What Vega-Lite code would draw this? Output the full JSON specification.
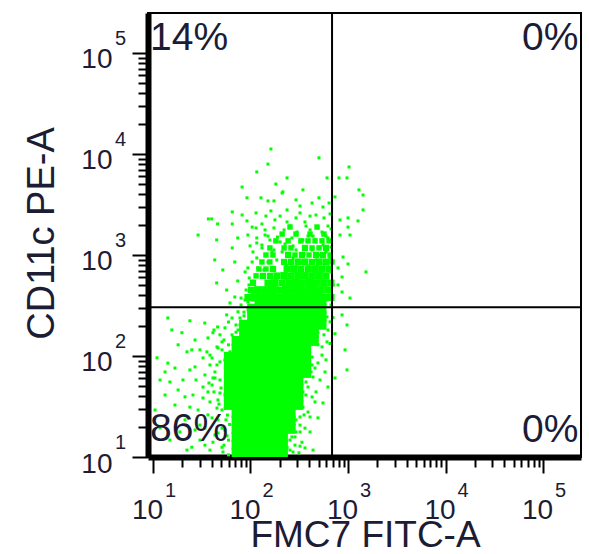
{
"$schema":"https://vega.github.io/schema/vega-lite/v6.json",
"autosize":{"type":"none"},
"padding":{"left":148,"top":13,"right":8,"bottom":97},
"width":433,"height":444,
"background":"white",
"config":{"view":{"stroke":"black","strokeWidth":2},"font":"Liberation Sans"},
"datasets":{
"cells":[
{"fitc":72,"pe":11,"n":10},{"fitc":86,"pe":11,"n":10},{"fitc":104,"pe":11,"n":10},{"fitc":124,"pe":11,"n":10},{"fitc":149,"pe":11,"n":10},{"fitc":179,"pe":11,"n":10},{"fitc":215,"pe":11,"n":10},
{"fitc":72,"pe":13.2,"n":10},{"fitc":86,"pe":13.2,"n":10},{"fitc":104,"pe":13.2,"n":10},{"fitc":124,"pe":13.2,"n":10},{"fitc":149,"pe":13.2,"n":10},{"fitc":179,"pe":13.2,"n":10},{"fitc":215,"pe":13.2,"n":10},
{"fitc":72,"pe":15.8,"n":10},{"fitc":86,"pe":15.8,"n":10},{"fitc":104,"pe":15.8,"n":10},{"fitc":124,"pe":15.8,"n":10},{"fitc":149,"pe":15.8,"n":10},{"fitc":179,"pe":15.8,"n":10},{"fitc":215,"pe":15.8,"n":10},
{"fitc":72,"pe":19,"n":10},{"fitc":86,"pe":19,"n":10},{"fitc":104,"pe":19,"n":10},{"fitc":124,"pe":19,"n":10},{"fitc":149,"pe":19,"n":10},{"fitc":179,"pe":19,"n":10},{"fitc":215,"pe":19,"n":10},{"fitc":258,"pe":19,"n":10},
{"fitc":72,"pe":22.8,"n":10},{"fitc":86,"pe":22.8,"n":10},{"fitc":104,"pe":22.8,"n":10},{"fitc":124,"pe":22.8,"n":10},{"fitc":149,"pe":22.8,"n":10},{"fitc":179,"pe":22.8,"n":10},{"fitc":215,"pe":22.8,"n":10},{"fitc":258,"pe":22.8,"n":10},
{"fitc":72,"pe":27.4,"n":10},{"fitc":86,"pe":27.4,"n":10},{"fitc":104,"pe":27.4,"n":10},{"fitc":124,"pe":27.4,"n":10},{"fitc":149,"pe":27.4,"n":10},{"fitc":179,"pe":27.4,"n":10},{"fitc":215,"pe":27.4,"n":10},{"fitc":258,"pe":27.4,"n":10},
{"fitc":60,"pe":32.8,"n":10},{"fitc":72,"pe":32.8,"n":10},{"fitc":86,"pe":32.8,"n":10},{"fitc":104,"pe":32.8,"n":10},{"fitc":124,"pe":32.8,"n":10},{"fitc":149,"pe":32.8,"n":10},{"fitc":179,"pe":32.8,"n":10},{"fitc":215,"pe":32.8,"n":10},{"fitc":258,"pe":32.8,"n":10},{"fitc":310,"pe":32.8,"n":10},
{"fitc":60,"pe":39.4,"n":10},{"fitc":72,"pe":39.4,"n":10},{"fitc":86,"pe":39.4,"n":10},{"fitc":104,"pe":39.4,"n":10},{"fitc":124,"pe":39.4,"n":10},{"fitc":149,"pe":39.4,"n":10},{"fitc":179,"pe":39.4,"n":10},{"fitc":215,"pe":39.4,"n":10},{"fitc":258,"pe":39.4,"n":10},{"fitc":310,"pe":39.4,"n":10},
{"fitc":60,"pe":47.3,"n":10},{"fitc":72,"pe":47.3,"n":10},{"fitc":86,"pe":47.3,"n":10},{"fitc":104,"pe":47.3,"n":10},{"fitc":124,"pe":47.3,"n":10},{"fitc":149,"pe":47.3,"n":10},{"fitc":179,"pe":47.3,"n":10},{"fitc":215,"pe":47.3,"n":10},{"fitc":258,"pe":47.3,"n":10},{"fitc":310,"pe":47.3,"n":10},
{"fitc":60,"pe":56.8,"n":10},{"fitc":72,"pe":56.8,"n":10},{"fitc":86,"pe":56.8,"n":10},{"fitc":104,"pe":56.8,"n":10},{"fitc":124,"pe":56.8,"n":10},{"fitc":149,"pe":56.8,"n":10},{"fitc":179,"pe":56.8,"n":10},{"fitc":215,"pe":56.8,"n":10},{"fitc":258,"pe":56.8,"n":10},{"fitc":310,"pe":56.8,"n":10},
{"fitc":60,"pe":68,"n":10},{"fitc":72,"pe":68,"n":10},{"fitc":86,"pe":68,"n":10},{"fitc":104,"pe":68,"n":10},{"fitc":124,"pe":68,"n":10},{"fitc":149,"pe":68,"n":10},{"fitc":179,"pe":68,"n":10},{"fitc":215,"pe":68,"n":10},{"fitc":258,"pe":68,"n":10},{"fitc":310,"pe":68,"n":10},{"fitc":372,"pe":68,"n":10},
{"fitc":60,"pe":82,"n":10},{"fitc":72,"pe":82,"n":10},{"fitc":86,"pe":82,"n":10},{"fitc":104,"pe":82,"n":10},{"fitc":124,"pe":82,"n":10},{"fitc":149,"pe":82,"n":10},{"fitc":179,"pe":82,"n":10},{"fitc":215,"pe":82,"n":10},{"fitc":258,"pe":82,"n":10},{"fitc":310,"pe":82,"n":10},{"fitc":372,"pe":82,"n":10},
{"fitc":60,"pe":98,"n":10},{"fitc":72,"pe":98,"n":10},{"fitc":86,"pe":98,"n":10},{"fitc":104,"pe":98,"n":10},{"fitc":124,"pe":98,"n":10},{"fitc":149,"pe":98,"n":10},{"fitc":179,"pe":98,"n":10},{"fitc":215,"pe":98,"n":10},{"fitc":258,"pe":98,"n":10},{"fitc":310,"pe":98,"n":10},{"fitc":372,"pe":98,"n":10},
{"fitc":72,"pe":118,"n":10},{"fitc":86,"pe":118,"n":10},{"fitc":104,"pe":118,"n":10},{"fitc":124,"pe":118,"n":10},{"fitc":149,"pe":118,"n":10},{"fitc":179,"pe":118,"n":10},{"fitc":215,"pe":118,"n":10},{"fitc":258,"pe":118,"n":10},{"fitc":310,"pe":118,"n":10},{"fitc":372,"pe":118,"n":10},
{"fitc":72,"pe":141,"n":10},{"fitc":86,"pe":141,"n":10},{"fitc":104,"pe":141,"n":10},{"fitc":124,"pe":141,"n":10},{"fitc":149,"pe":141,"n":10},{"fitc":179,"pe":141,"n":10},{"fitc":215,"pe":141,"n":10},{"fitc":258,"pe":141,"n":10},{"fitc":310,"pe":141,"n":10},{"fitc":372,"pe":141,"n":10},{"fitc":446,"pe":141,"n":10},
{"fitc":86,"pe":170,"n":10},{"fitc":104,"pe":170,"n":10},{"fitc":124,"pe":170,"n":10},{"fitc":149,"pe":170,"n":10},{"fitc":179,"pe":170,"n":10},{"fitc":215,"pe":170,"n":10},{"fitc":258,"pe":170,"n":10},{"fitc":310,"pe":170,"n":10},{"fitc":372,"pe":170,"n":10},{"fitc":446,"pe":170,"n":10},
{"fitc":86,"pe":204,"n":10},{"fitc":104,"pe":204,"n":10},{"fitc":124,"pe":204,"n":10},{"fitc":149,"pe":204,"n":10},{"fitc":179,"pe":204,"n":10},{"fitc":215,"pe":204,"n":10},{"fitc":258,"pe":204,"n":10},{"fitc":310,"pe":204,"n":10},{"fitc":372,"pe":204,"n":10},{"fitc":446,"pe":204,"n":10},{"fitc":535,"pe":204,"n":10},
{"fitc":104,"pe":245,"n":10},{"fitc":124,"pe":245,"n":10},{"fitc":149,"pe":245,"n":10},{"fitc":179,"pe":245,"n":10},{"fitc":215,"pe":245,"n":10},{"fitc":258,"pe":245,"n":10},{"fitc":310,"pe":245,"n":10},{"fitc":372,"pe":245,"n":10},{"fitc":446,"pe":245,"n":10},{"fitc":535,"pe":245,"n":10},
{"fitc":104,"pe":294,"n":10},{"fitc":124,"pe":294,"n":10},{"fitc":149,"pe":294,"n":10},{"fitc":179,"pe":294,"n":10},{"fitc":215,"pe":294,"n":10},{"fitc":258,"pe":294,"n":10},{"fitc":310,"pe":294,"n":10},{"fitc":372,"pe":294,"n":10},{"fitc":446,"pe":294,"n":10},{"fitc":535,"pe":294,"n":10},
{"fitc":124,"pe":352,"n":10},{"fitc":149,"pe":352,"n":10},{"fitc":179,"pe":352,"n":10},{"fitc":215,"pe":352,"n":10},{"fitc":258,"pe":352,"n":10},{"fitc":310,"pe":352,"n":10},{"fitc":372,"pe":352,"n":10},{"fitc":446,"pe":352,"n":10},{"fitc":535,"pe":352,"n":10},
{"fitc":94,"pe":380,"n":5},{"fitc":111,"pe":380,"n":7},{"fitc":131,"pe":380,"n":7},{"fitc":154,"pe":380,"n":6},{"fitc":182,"pe":380,"n":7},{"fitc":215,"pe":380,"n":7},{"fitc":254,"pe":380,"n":7},{"fitc":300,"pe":380,"n":6},{"fitc":354,"pe":380,"n":7},{"fitc":418,"pe":380,"n":7},{"fitc":492,"pe":380,"n":7},{"fitc":581,"pe":380,"n":6},{"fitc":670,"pe":380,"n":5},
{"fitc":101,"pe":450,"n":4},{"fitc":119,"pe":450,"n":6},{"fitc":141,"pe":450,"n":6},{"fitc":166,"pe":450,"n":7},{"fitc":194,"pe":450,"n":5},{"fitc":232,"pe":450,"n":7},{"fitc":273,"pe":450,"n":6},{"fitc":322,"pe":450,"n":7},{"fitc":380,"pe":450,"n":6},{"fitc":448,"pe":450,"n":7},{"fitc":528,"pe":450,"n":6},{"fitc":623,"pe":450,"n":5},
{"fitc":106,"pe":528,"n":4},{"fitc":151,"pe":528,"n":5},{"fitc":178,"pe":528,"n":6},{"fitc":211,"pe":528,"n":4},{"fitc":249,"pe":528,"n":6},{"fitc":293,"pe":528,"n":7},{"fitc":345,"pe":528,"n":5},{"fitc":408,"pe":528,"n":7},{"fitc":481,"pe":528,"n":5},{"fitc":567,"pe":528,"n":6},{"fitc":670,"pe":528,"n":5},
{"fitc":114,"pe":621,"n":3},{"fitc":134,"pe":621,"n":4},{"fitc":158,"pe":621,"n":4},{"fitc":186,"pe":621,"n":5},{"fitc":221,"pe":621,"n":6},{"fitc":260,"pe":621,"n":4},{"fitc":307,"pe":621,"n":6},{"fitc":362,"pe":621,"n":6},{"fitc":428,"pe":621,"n":5},{"fitc":504,"pe":621,"n":6},{"fitc":595,"pe":621,"n":5},
{"fitc":122,"pe":726,"n":3},{"fitc":144,"pe":726,"n":3},{"fitc":170,"pe":726,"n":4},{"fitc":237,"pe":726,"n":5},{"fitc":279,"pe":726,"n":6},{"fitc":329,"pe":726,"n":4},{"fitc":389,"pe":726,"n":5},{"fitc":459,"pe":726,"n":6},{"fitc":541,"pe":726,"n":5},{"fitc":639,"pe":726,"n":5},
{"fitc":131,"pe":853,"n":3},{"fitc":158,"pe":853,"n":3},{"fitc":221,"pe":853,"n":4},{"fitc":260,"pe":853,"n":4},{"fitc":307,"pe":853,"n":5},{"fitc":362,"pe":853,"n":5},{"fitc":428,"pe":853,"n":4},{"fitc":504,"pe":853,"n":5},{"fitc":595,"pe":853,"n":5},{"fitc":686,"pe":853,"n":3},
{"fitc":144,"pe":1000,"n":3},{"fitc":170,"pe":1000,"n":3},{"fitc":243,"pe":1000,"n":4},{"fitc":286,"pe":1000,"n":3},{"fitc":337,"pe":1000,"n":4},{"fitc":398,"pe":1000,"n":3},{"fitc":470,"pe":1000,"n":4},{"fitc":554,"pe":1000,"n":4},{"fitc":654,"pe":1000,"n":3},
{"fitc":158,"pe":1175,"n":3},{"fitc":221,"pe":1175,"n":3},{"fitc":260,"pe":1175,"n":3},{"fitc":362,"pe":1175,"n":4},{"fitc":428,"pe":1175,"n":3},{"fitc":504,"pe":1175,"n":3},{"fitc":595,"pe":1175,"n":4},
{"fitc":182,"pe":1380,"n":3},{"fitc":243,"pe":1380,"n":3},{"fitc":329,"pe":1380,"n":3},{"fitc":389,"pe":1380,"n":3},{"fitc":459,"pe":1380,"n":3},{"fitc":541,"pe":1380,"n":3},{"fitc":639,"pe":1380,"n":3},
{"fitc":211,"pe":1612,"n":3},{"fitc":293,"pe":1612,"n":3},{"fitc":408,"pe":1612,"n":3},{"fitc":567,"pe":1612,"n":3},
{"fitc":254,"pe":1893,"n":3},{"fitc":481,"pe":1893,"n":3}
],
"events":[
{"fitc":162,"pe":11200},{"fitc":151,"pe":7940},{"fitc":116,"pe":6650},{"fitc":182,"pe":5040},{"fitc":82,"pe":4710},{"fitc":92,"pe":3680},{"fitc":128,"pe":3680},{"fitc":151,"pe":3430},{"fitc":174,"pe":3430},{"fitc":211,"pe":4110},{"fitc":65,"pe":2670},{"fitc":82,"pe":2489},{"fitc":114,"pe":2610},{"fitc":162,"pe":2730},{"fitc":37,"pe":2275},{"fitc":40,"pe":2275},{"fitc":46,"pe":2030},{"fitc":65,"pe":2030},{"fitc":92,"pe":2175},{"fitc":131,"pe":2030},{"fitc":178,"pe":2225},{"fitc":104,"pe":1890},
{"fitc":504,"pe":9160},{"fitc":1024,"pe":7440},{"fitc":237,"pe":5800},{"fitc":609,"pe":5800},{"fitc":808,"pe":5800},{"fitc":977,"pe":5800},{"fitc":345,"pe":4412},{"fitc":215,"pe":4220},{"fitc":1296,"pe":4412},{"fitc":1427,"pe":3925},{"fitc":293,"pe":3512},{"fitc":428,"pe":3270},{"fitc":504,"pe":3680},{"fitc":736,"pe":3760},{"fitc":1427,"pe":2795},{"fitc":828,"pe":2225},{"fitc":1000,"pe":2330},{"fitc":1266,"pe":2175},{"fitc":237,"pe":2795},{"fitc":322,"pe":2610},{"fitc":554,"pe":2985},
{"fitc":254,"pe":1935},{"fitc":362,"pe":2125},{"fitc":470,"pe":2489},{"fitc":623,"pe":1935},{"fitc":293,"pe":2330},{"fitc":408,"pe":1771},{"fitc":541,"pe":1690},{"fitc":221,"pe":1771},{"fitc":654,"pe":2550},{"fitc":141,"pe":1771},
{"fitc":131,"pe":1256},{"fitc":151,"pe":1540},{"fitc":174,"pe":1853},{"fitc":201,"pe":1348},{"fitc":237,"pe":2125},{"fitc":273,"pe":1230},{"fitc":300,"pe":1690},{"fitc":345,"pe":1410},{"fitc":371,"pe":1935},{"fitc":438,"pe":1540},{"fitc":492,"pe":1853},{"fitc":595,"pe":1540},{"fitc":670,"pe":1810},{"fitc":201,"pe":2430},{"fitc":322,"pe":3055},{"fitc":408,"pe":2430},{"fitc":567,"pe":2330},{"fitc":639,"pe":3270},{"fitc":144,"pe":2430},{"fitc":116,"pe":1475},{"fitc":99,"pe":1230},{"fitc":114,"pe":1853},{"fitc":516,"pe":1200},{"fitc":166,"pe":1072},{"fitc":119,"pe":745},{"fitc":104,"pe":853},{"fitc":96.5,"pe":505},{"fitc":87.8,"pe":358},
{"fitc":29,"pe":1577},{"fitc":45,"pe":1410},{"fitc":74,"pe":1475},{"fitc":94,"pe":1577},{"fitc":65,"pe":1175},{"fitc":43,"pe":893},{"fitc":52,"pe":711},{"fitc":69,"pe":853},{"fitc":45,"pe":529},{"fitc":57,"pe":450},{"fitc":74,"pe":553},{"fitc":69,"pe":384},{"fitc":88,"pe":680},{"fitc":106,"pe":1072},{"fitc":116,"pe":1315},{"fitc":104,"pe":430},{"fitc":141,"pe":1577},{"fitc":131,"pe":853},
{"fitc":158,"pe":1410},{"fitc":189,"pe":1507},{"fitc":226,"pe":1285},{"fitc":266,"pe":1475},{"fitc":322,"pe":1348},{"fitc":389,"pe":1540},{"fitc":459,"pe":1410},{"fitc":554,"pe":1256},{"fitc":623,"pe":1475},{"fitc":670,"pe":1200},{"fitc":131,"pe":1175},{"fitc":174,"pe":1122},{"fitc":211,"pe":1072},{"fitc":293,"pe":1122},{"fitc":354,"pe":1023},{"fitc":428,"pe":1122},{"fitc":504,"pe":1000},{"fitc":595,"pe":1072},{"fitc":116,"pe":935},{"fitc":151,"pe":853},{"fitc":186,"pe":893},{"fitc":232,"pe":796},{"fitc":273,"pe":935},{"fitc":329,"pe":853},{"fitc":398,"pe":778},{"fitc":470,"pe":893},{"fitc":567,"pe":815},{"fitc":654,"pe":935},{"fitc":94,"pe":745},{"fitc":114,"pe":634},{"fitc":137,"pe":711},{"fitc":106,"pe":553},{"fitc":90,"pe":450},{"fitc":80,"pe":375},{"fitc":97,"pe":592},{"fitc":670,"pe":680},{"fitc":702,"pe":505},{"fitc":686,"pe":384},{"fitc":639,"pe":430},
{"fitc":828,"pe":1577},{"fitc":1048,"pe":1577},{"fitc":1000,"pe":1890},{"fitc":890,"pe":955},{"fitc":1000,"pe":815},{"fitc":1529,"pe":680},{"fitc":869,"pe":606},{"fitc":790,"pe":505},{"fitc":1048,"pe":375},{"fitc":869,"pe":430},{"fitc":790,"pe":745},
{"fitc":14.2,"pe":238},{"fitc":19.8,"pe":170},{"fitc":11,"pe":96},{"fitc":22.3,"pe":110},{"fitc":25,"pe":115},{"fitc":34,"pe":212},{"fitc":46,"pe":194},{"fitc":36.6,"pe":151},{"fitc":51,"pe":138},{"fitc":57,"pe":255},{"fitc":14.2,"pe":85},{"fitc":16.8,"pe":76},{"fitc":13.3,"pe":69.5},{"fitc":23.9,"pe":72.8},{"fitc":27,"pe":78},{"fitc":32.6,"pe":95.7},{"fitc":38.4,"pe":102},{"fitc":45.3,"pe":81.5},{"fitc":51,"pe":115},{"fitc":45.3,"pe":123},{"fitc":41.2,"pe":170},{"fitc":61.6,"pe":335},
{"fitc":10.5,"pe":29.2},{"fitc":14.9,"pe":55.3},{"fitc":18.1,"pe":46.1},{"fitc":20.3,"pe":57.9},{"fitc":25.7,"pe":41.1},{"fitc":32.6,"pe":49.3},{"fitc":38.4,"pe":35.1},{"fitc":41.2,"pe":60.6},{"fitc":16.8,"pe":32.7},{"fitc":23.9,"pe":31.2},{"fitc":45.3,"pe":30.5},{"fitc":25,"pe":12.5},{"fitc":34.1,"pe":13.1},{"fitc":41.2,"pe":14},{"fitc":51,"pe":12.5},{"fitc":22.3,"pe":11.7},
{"fitc":34.1,"pe":64.9},{"fitc":40.3,"pe":51.6},{"fitc":48.6,"pe":43},{"fitc":36.6,"pe":26.1},{"fitc":46.4,"pe":23.3},{"fitc":54.7,"pe":18.5},{"fitc":30.3,"pe":20.7},{"fitc":43.2,"pe":16.5},{"fitc":52.2,"pe":11.2},{"fitc":59.5,"pe":14.7},{"fitc":29,"pe":29.2},{"fitc":21.3,"pe":23.3},{"fitc":18.9,"pe":17.7},{"fitc":11.8,"pe":19.4},{"fitc":14.9,"pe":14.7},{"fitc":46.4,"pe":36.7},{"fitc":51,"pe":29.2},{"fitc":54.7,"pe":41.1},{"fitc":43.2,"pe":69.5},{"fitc":48.6,"pe":57.9},{"fitc":54.7,"pe":91.5},{"fitc":59.5,"pe":129},{"fitc":64.6,"pe":162},{"fitc":71,"pe":203},{"fitc":78,"pe":238},{"fitc":85.7,"pe":272},{"fitc":74.4,"pe":181},{"fitc":61.6,"pe":110},{"fitc":56,"pe":72.8},{"fitc":38.4,"pe":81.5},{"fitc":30.3,"pe":115},{"fitc":27,"pe":144},{"fitc":23.9,"pe":223},{"fitc":18.1,"pe":129},{"fitc":15.6,"pe":181},{"fitc":13.3,"pe":41.1},{"fitc":11.8,"pe":57.9},{"fitc":21.3,"pe":39.4},{"fitc":27.6,"pe":57.9},{"fitc":36.6,"pe":44.1},
{"fitc":59.5,"pe":217},{"fitc":64.6,"pe":238},{"fitc":54.7,"pe":190},{"fitc":48.6,"pe":162},{"fitc":42.2,"pe":181},{"fitc":53.4,"pe":144},{"fitc":46.4,"pe":120},{"fitc":40.3,"pe":95.7},{"fitc":35.7,"pe":110},{"fitc":48.6,"pe":87.4},{"fitc":43.2,"pe":60.6},{"fitc":37.5,"pe":54},{"fitc":49.8,"pe":48.2},{"fitc":42.2,"pe":44.1},{"fitc":32.6,"pe":38.4},{"fitc":47.5,"pe":33.4},{"fitc":40.3,"pe":24.4},{"fitc":34.1,"pe":19.3},{"fitc":46.4,"pe":17.3},{"fitc":53.4,"pe":13.1},{"fitc":38.4,"pe":11.7},{"fitc":30.3,"pe":14.7},{"fitc":56,"pe":23.3},{"fitc":51,"pe":19.3},{"fitc":27,"pe":18.5},{"fitc":59.5,"pe":10.5},{"fitc":58,"pe":26},{"fitc":55,"pe":30.5},{"fitc":61,"pe":21},{"fitc":57.5,"pe":16.2},
{"fitc":74.4,"pe":274},{"fitc":85.7,"pe":250},{"fitc":78,"pe":203},{"fitc":90,"pe":217},{"fitc":71,"pe":172},{"fitc":80,"pe":151},{"fitc":94.3,"pe":286},{"fitc":98.8,"pe":244},{"fitc":80,"pe":320},{"fitc":94,"pe":342},
{"fitc":459,"pe":228},{"fitc":554,"pe":203},{"fitc":609,"pe":244},{"fitc":492,"pe":170},{"fitc":438,"pe":138},{"fitc":541,"pe":123},{"fitc":609,"pe":138},{"fitc":428,"pe":97.7},{"fitc":492,"pe":85.3},{"fitc":581,"pe":69.5},{"fitc":623,"pe":49.3},{"fitc":438,"pe":62},{"fitc":389,"pe":49.3},{"fitc":428,"pe":39.3},{"fitc":554,"pe":34.3},{"fitc":345,"pe":31.2},{"fitc":322,"pe":24.9},{"fitc":408,"pe":24.9},{"fitc":273,"pe":19.8},{"fitc":362,"pe":19.3},{"fitc":337,"pe":14},{"fitc":286,"pe":15.8},{"fitc":237,"pe":12.5},{"fitc":438,"pe":11.7},{"fitc":314,"pe":11},
{"fitc":869,"pe":255},{"fitc":977,"pe":203},{"fitc":932,"pe":115},{"fitc":977,"pe":72.8},{"fitc":736,"pe":60.6},{"fitc":736,"pe":166},
{"fitc":516,"pe":274},{"fitc":654,"pe":218},{"fitc":567,"pe":162},{"fitc":492,"pe":129},{"fitc":389,"pe":109},{"fitc":459,"pe":76},{"fitc":362,"pe":88},{"fitc":322,"pe":64.9},{"fitc":370,"pe":41.1},{"fitc":314,"pe":36.7},{"fitc":266,"pe":29.2},{"fitc":293,"pe":23.3},{"fitc":322,"pe":17.7},{"fitc":254,"pe":14.7},{"fitc":226,"pe":10.5},{"fitc":362,"pe":12.3},{"fitc":273,"pe":11.2},{"fitc":516,"pe":57.9},{"fitc":470,"pe":44.1},{"fitc":389,"pe":27.9},{"fitc":322,"pe":20.7},{"fitc":408,"pe":17.7},{"fitc":286,"pe":13.1},{"fitc":428,"pe":81.5},{"fitc":541,"pe":102},{"fitc":623,"pe":181},{"fitc":654,"pe":133},{"fitc":595,"pe":91.5},{"fitc":702,"pe":240},{"fitc":670,"pe":320},
{"fitc":371,"pe":55.3},{"fitc":418,"pe":69.5},{"fitc":345,"pe":44.1},{"fitc":307,"pe":31.9},{"fitc":354,"pe":26.1},{"fitc":260,"pe":23.3},{"fitc":293,"pe":17.7},{"fitc":254,"pe":11.7},{"fitc":322,"pe":12.8},{"fitc":266,"pe":15.8},{"fitc":459,"pe":35.1},{"fitc":492,"pe":24.4}
],
"decades":[
{"fitc":10,"pe":10,"e":"1"},{"fitc":100,"pe":100,"e":"2"},{"fitc":1000,"pe":1000,"e":"3"},{"fitc":10000,"pe":10000,"e":"4"},{"fitc":100000,"pe":100000,"e":"5"}
]
},
"layer":[
{
"data":{"name":"cells"},
"mark":{"type":"point","shape":"square","filled":true,"color":"#00ff00","opacity":1,"strokeWidth":0,"clip":true},
"encoding":{
"x":{"field":"fitc","type":"quantitative","scale":{"type":"log","domain":[8.887,245300],"nice":false},
"axis":{"title":"FMC7 FITC-A","grid":false,
"values":[10,20,30,40,50,60,70,80,90,100,200,300,400,500,600,700,800,900,1000,2000,3000,4000,5000,6000,7000,8000,9000,10000,20000,30000,40000,50000,60000,70000,80000,90000,100000],
"labelExpr":"indexof([10,100,1000,10000,100000],datum.value)>=0 ? '10' : ''",
"tickSize":{"condition":{"test":"indexof([10,100,1000,10000,100000],datum.value)>=0","value":16},"value":10},
"tickWidth":2,"tickColor":"black","domainColor":"black","domainWidth":6,
"labelFont":"Liberation Sans","labelFontSize":28,"labelColor":"#1c1c34","labelBaseline":"alphabetic","labelPadding":45,"labelOffset":-6,
"labelOverlap":false,"labelFlush":false,"labelBound":false,
"titleFont":"Liberation Sans","titleFontSize":37,"titleFontWeight":"normal","titleColor":"#1c1c34","titleX":217,"titleY":89,"titleBaseline":"alphabetic","titleAlign":"center","titleAnchor":"middle"}},
"y":{"field":"pe","type":"quantitative","scale":{"type":"log","domain":[10,248900],"nice":false},
"axis":{"title":"CD11c PE-A","grid":false,
"values":[10,20,30,40,50,60,70,80,90,100,200,300,400,500,600,700,800,900,1000,2000,3000,4000,5000,6000,7000,8000,9000,10000,20000,30000,40000,50000,60000,70000,80000,90000,100000],
"labelExpr":"indexof([10,100,1000,10000,100000],datum.value)>=0 ? '10' : ''",
"tickSize":{"condition":{"test":"indexof([10,100,1000,10000,100000],datum.value)>=0","value":16},"value":10},
"tickWidth":2,"tickColor":"black","domainColor":"black","domainWidth":6,
"labelFont":"Liberation Sans","labelFontSize":28,"labelColor":"#1c1c34","labelBaseline":"alphabetic","labelAlign":"right","labelPadding":20,"labelOffset":15,
"labelOverlap":false,"labelFlush":false,"labelBound":false,
"titleFont":"Liberation Sans","titleFontSize":38,"titleFontWeight":"normal","titleColor":"#1c1c34","titleX":-95,"titleY":220,"titleAngle":270,"titleBaseline":"alphabetic","titleAlign":"center","titleAnchor":"middle"}},
"size":{"field":"n","type":"quantitative","scale":{"type":"linear","domain":[1,10],"range":[9,100]},"legend":null}
}
},
{
"data":{"name":"events"},
"mark":{"type":"point","shape":"square","filled":true,"color":"#00ff00","opacity":1,"strokeWidth":0,"size":9,"clip":true},
"encoding":{
"x":{"field":"fitc","type":"quantitative"},
"y":{"field":"pe","type":"quantitative"}
}
},
{
"data":{"values":[{}]},
"mark":{"type":"rule","color":"black","strokeWidth":2},
"encoding":{"x":{"datum":686,"type":"quantitative"}}
},
{
"data":{"values":[{}]},
"mark":{"type":"rule","color":"black","strokeWidth":2},
"encoding":{"y":{"datum":303,"type":"quantitative"}}
},
{
"data":{"name":"decades"},
"mark":{"type":"text","font":"Liberation Sans","fontSize":20,"color":"#1c1c34","align":"left","baseline":"alphabetic","dx":12,"dy":40},
"encoding":{"x":{"field":"fitc","type":"quantitative"},"y":{"datum":10,"type":"quantitative"},"text":{"field":"e"}}
},
{
"data":{"name":"decades"},
"mark":{"type":"text","font":"Liberation Sans","fontSize":20,"color":"#1c1c34","align":"left","baseline":"alphabetic","dx":-33,"dy":-8},
"encoding":{"x":{"datum":8.887,"type":"quantitative"},"y":{"field":"pe","type":"quantitative"},"text":{"field":"e"}}
},
{
"data":{"values":[{}]},
"mark":{"type":"text","text":"14%","font":"Liberation Sans","fontSize":39,"color":"#1c1c34","align":"left","baseline":"alphabetic","dx":-3},
"encoding":{"x":{"datum":10,"type":"quantitative"},"y":{"datum":107000,"type":"quantitative"}}
},
{
"data":{"values":[{}]},
"mark":{"type":"text","text":"0%","font":"Liberation Sans","fontSize":39,"color":"#1c1c34","align":"right","baseline":"alphabetic"},
"encoding":{"x":{"datum":231000,"type":"quantitative"},"y":{"datum":107000,"type":"quantitative"}}
},
{
"data":{"values":[{}]},
"mark":{"type":"text","text":"86%","font":"Liberation Sans","fontSize":39,"color":"#1c1c34","align":"left","baseline":"alphabetic","dx":-3},
"encoding":{"x":{"datum":10,"type":"quantitative"},"y":{"datum":14.4,"type":"quantitative"}}
},
{
"data":{"values":[{}]},
"mark":{"type":"text","text":"0%","font":"Liberation Sans","fontSize":39,"color":"#1c1c34","align":"right","baseline":"alphabetic"},
"encoding":{"x":{"datum":231000,"type":"quantitative"},"y":{"datum":14.1,"type":"quantitative"}}
}
]
}
